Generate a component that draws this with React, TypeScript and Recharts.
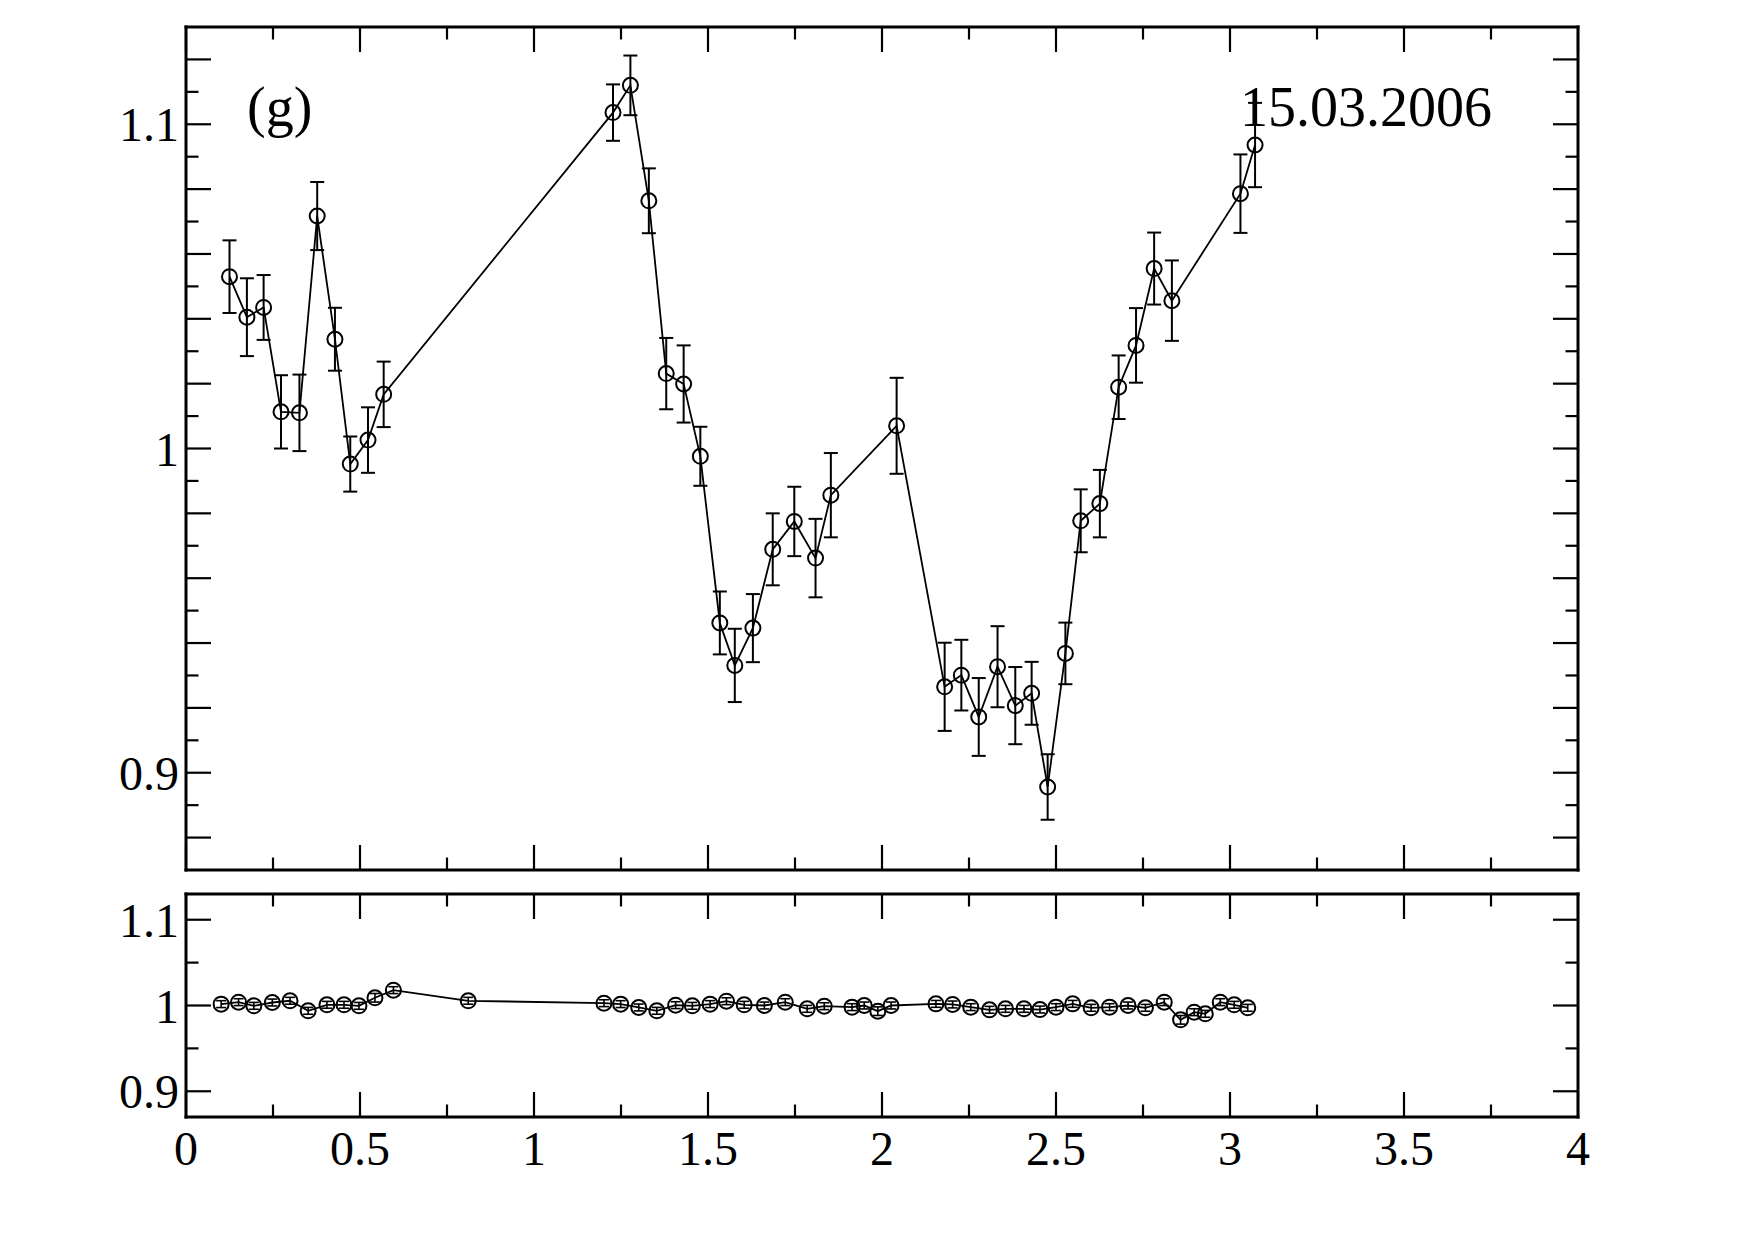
import React from 'react';
import { ComposedChart, Line, XAxis, YAxis, ErrorBar } from 'recharts';

// ---------- data: upper panel (g) ----------
const topX = [
  0.125, 0.175, 0.223, 0.273, 0.326, 0.377, 0.428, 0.472, 0.523, 0.568,
  1.227, 1.277, 1.33, 1.38, 1.43, 1.478, 1.534, 1.577, 1.629, 1.686,
  1.748, 1.809, 1.853, 2.042, 2.18, 2.228, 2.278, 2.332, 2.383, 2.43,
  2.476, 2.527, 2.571, 2.626, 2.68, 2.73, 2.782, 2.833, 3.03, 3.072,
];
const topY = [
  1.053, 1.0405, 1.0435, 1.0113, 1.011, 1.0717, 1.0337, 0.9952, 1.0026, 1.0167,
  1.1036, 1.112, 1.0764, 1.0231, 1.0199, 0.9976, 0.9462, 0.9331, 0.9446, 0.9689,
  0.9775, 0.9662, 0.9856, 1.007, 0.9265, 0.9301, 0.9172, 0.9327, 0.9207, 0.9245,
  0.8956, 0.9368, 0.9777, 0.983, 1.0189, 1.0318, 1.0555, 1.0456, 1.0786, 1.0936,
];
const topErr = [
  0.0112, 0.012, 0.01, 0.0113, 0.0118, 0.0105, 0.0097, 0.0085, 0.0101, 0.0101,
  0.0087, 0.0092, 0.01, 0.011, 0.0119, 0.0091, 0.0097, 0.0113, 0.0105, 0.0111,
  0.0107, 0.0121, 0.013, 0.0148, 0.0136, 0.0109, 0.012, 0.0125, 0.0119, 0.0097,
  0.0101, 0.0095, 0.0097, 0.0104, 0.0098, 0.0115, 0.0111, 0.0124, 0.0121, 0.013,
];

// ---------- data: lower panel ----------
const botX = [
  0.101, 0.151, 0.195, 0.248, 0.299, 0.351, 0.405, 0.454, 0.497, 0.543,
  0.596, 0.811, 1.201, 1.249, 1.301, 1.353, 1.407, 1.455, 1.506, 1.553,
  1.604, 1.662, 1.722, 1.785, 1.834, 1.914, 1.949, 1.988, 2.026, 2.155,
  2.203, 2.255, 2.309, 2.355, 2.408, 2.454, 2.5, 2.548, 2.601, 2.654,
  2.707, 2.757, 2.811, 2.858, 2.897, 2.929, 2.972, 3.012, 3.051,
];
const botY = [
  1.0016, 1.0039, 0.9996, 1.0035, 1.0055, 0.9938, 1.0008, 1.0008, 0.9996, 1.009,
  1.0179, 1.0055, 1.0027, 1.0016, 0.9977, 0.9938, 1.0004, 0.9996, 1.0016, 1.005,
  1.0008, 1.0, 1.0039, 0.9961, 0.9992, 0.9981, 1.0, 0.9934, 1.0, 1.0019,
  1.0012, 0.9981, 0.995, 0.9961, 0.9961, 0.9953, 0.9981, 1.0019, 0.9973, 0.9981,
  1.0, 0.9973, 1.0039, 0.9833, 0.9922, 0.9903, 1.0039, 1.0008, 0.9973,
];
const botErr = [
  0.004, 0.004, 0.004, 0.004, 0.004, 0.004, 0.004, 0.004, 0.004, 0.005,
  0.004, 0.004, 0.004, 0.004, 0.004, 0.004, 0.004, 0.004, 0.004, 0.004,
  0.004, 0.004, 0.004, 0.004, 0.004, 0.004, 0.004, 0.005, 0.004, 0.004,
  0.004, 0.004, 0.004, 0.004, 0.004, 0.004, 0.004, 0.004, 0.004, 0.004,
  0.004, 0.004, 0.004, 0.005, 0.004, 0.004, 0.004, 0.004, 0.004,
];

// ---------- axes / ticks ----------
const X_DOMAIN = [0, 4];
const Y_DOMAIN = [0.87, 1.13];
const X_LABELS = [0, 0.5, 1, 1.5, 2, 2.5, 3, 3.5, 4];
const X_MAJOR = [0, 0.5, 1, 1.5, 2, 2.5, 3, 3.5, 4];
const X_MINOR = [0.25, 0.75, 1.25, 1.75, 2.25, 2.75, 3.25, 3.75];
const Y_LABELS = [0.9, 1, 1.1];
const TOP_Y_MAJOR = [0.88, 0.9, 0.92, 0.94, 0.96, 0.98, 1.0, 1.02, 1.04, 1.06, 1.08, 1.1, 1.12];
const TOP_Y_MINOR = [0.89, 0.91, 0.93, 0.95, 0.97, 0.99, 1.01, 1.03, 1.05, 1.07, 1.09, 1.11];
const BOT_Y_MAJOR = [0.9, 1, 1.1];
const BOT_Y_MINOR = [0.95, 1.05];

const PANEL_LABEL = '(g)';
const DATE_LABEL = '15.03.2006';

const topData = topX.map((x, i) => ({ x, y: topY[i], e: topErr[i] }));
const botData = botX.map((x, i) => ({ x, y: botY[i], e: botErr[i] }));

const W = 1756;
const H = 1242;
const FONT = 'Liberation Serif, Times New Roman, serif';

// plot frames (pixel edges of each panel)
const TOP_MARGIN = { top: 27, right: 178, bottom: 372, left: 186 };
const BOT_MARGIN = { top: 894, right: 178, bottom: 125, left: 186 };

const tickLineStyle = { stroke: '#000', strokeWidth: 2.2 };
const frameStyle = { stroke: '#000', strokeWidth: 3, strokeLinecap: 'square' as const };
const MAJOR_LEN = 25;
const MINOR_LEN = 12.5;

const labelTick = { fill: '#000', fontSize: 48, fontFamily: FONT };
const dotStyle = { r: 7.5, fill: 'none', stroke: '#000', strokeWidth: 2 };

const layerStyle: React.CSSProperties = { position: 'absolute', left: 0, top: 0 };

type Margin = { top: number; right: number; bottom: number; left: number };

// tick mark only: no label text
const EmptyTick = () => <g />;

function TickLayer({ margin, xTicks, yTicks, len, frame }: {
  margin: Margin; xTicks: number[]; yTicks: number[]; len: number; frame: boolean;
}) {
  const axisLine = frame ? frameStyle : false;
  const xc = {
    dataKey: 'x',
    type: 'number' as const,
    domain: X_DOMAIN,
    allowDataOverflow: true,
    mirror: true,
    tick: EmptyTick,
    interval: 0 as const,
    stroke: '#000',
    height: 1,
    ticks: xTicks,
    tickSize: len,
    tickLine: tickLineStyle,
    axisLine,
  };
  const yc = {
    dataKey: 'y',
    type: 'number' as const,
    domain: Y_DOMAIN,
    allowDataOverflow: true,
    mirror: true,
    tick: EmptyTick,
    interval: 0 as const,
    stroke: '#000',
    width: 1,
    ticks: yTicks,
    tickSize: len,
    tickLine: tickLineStyle,
    axisLine,
  };
  return (
    <div style={layerStyle}>
      <ComposedChart width={W} height={H} margin={margin}>
        <XAxis xAxisId="t" orientation="top" {...xc} />
        <XAxis xAxisId="b" orientation="bottom" {...xc} />
        <YAxis yAxisId="l" orientation="left" {...yc} />
        <YAxis yAxisId="r" orientation="right" {...yc} />
      </ComposedChart>
    </div>
  );
}

export default function App() {
  return (
    <div style={{ position: 'absolute', left: 0, top: 0, width: W, height: H, background: '#fff', overflow: 'hidden' }}>
      {/* upper panel: frame and ticks */}
      <TickLayer margin={TOP_MARGIN} xTicks={X_MAJOR} yTicks={TOP_Y_MAJOR} len={MAJOR_LEN} frame />
      <TickLayer margin={TOP_MARGIN} xTicks={X_MINOR} yTicks={TOP_Y_MINOR} len={MINOR_LEN} frame={false} />
      {/* upper panel: data */}
      <div style={layerStyle}>
        <ComposedChart width={W} height={H} margin={{ ...TOP_MARGIN, left: TOP_MARGIN.left - 60 }}>
          <XAxis xAxisId="xd" dataKey="x" type="number" domain={X_DOMAIN} allowDataOverflow hide />
          <YAxis
            yAxisId="yl"
            type="number"
            domain={Y_DOMAIN}
            allowDataOverflow
            width={60}
            ticks={Y_LABELS}
            interval={0}
            tickLine={false}
            axisLine={false}
            tickSize={0}
            tickMargin={7}
            tick={labelTick}
          />
          <Line
            xAxisId="xd"
            yAxisId="yl"
            data={topData}
            dataKey="y"
            type="linear"
            stroke="#000"
            strokeWidth={1.8}
            dot={dotStyle}
            activeDot={false}
            isAnimationActive={false}
          >
            <ErrorBar dataKey="e" direction="y" width={7} stroke="#000" strokeWidth={2} />
          </Line>
        </ComposedChart>
      </div>

      {/* lower panel: frame and ticks */}
      <TickLayer margin={BOT_MARGIN} xTicks={X_MAJOR} yTicks={BOT_Y_MAJOR} len={MAJOR_LEN} frame />
      <TickLayer margin={BOT_MARGIN} xTicks={X_MINOR} yTicks={BOT_Y_MINOR} len={MINOR_LEN} frame={false} />
      {/* lower panel: data */}
      <div style={layerStyle}>
        <ComposedChart
          width={W}
          height={H}
          margin={{ ...BOT_MARGIN, left: BOT_MARGIN.left - 60, bottom: BOT_MARGIN.bottom - 60 }}
        >
          <XAxis
            xAxisId="xd"
            dataKey="x"
            type="number"
            domain={X_DOMAIN}
            allowDataOverflow
            height={60}
            ticks={X_LABELS}
            interval={0}
            tickLine={false}
            axisLine={false}
            tickSize={0}
            tickMargin={14}
            tick={labelTick}
          />
          <YAxis
            yAxisId="yl"
            type="number"
            domain={Y_DOMAIN}
            allowDataOverflow
            width={60}
            ticks={Y_LABELS}
            interval={0}
            tickLine={false}
            axisLine={false}
            tickSize={0}
            tickMargin={7}
            tick={labelTick}
          />
          <Line
            xAxisId="xd"
            yAxisId="yl"
            data={botData}
            dataKey="y"
            type="linear"
            stroke="#000"
            strokeWidth={1.8}
            dot={dotStyle}
            activeDot={false}
            isAnimationActive={false}
          >
            <ErrorBar dataKey="e" direction="y" width={5} stroke="#000" strokeWidth={1.6} />
          </Line>
        </ComposedChart>
      </div>

      {/* panel annotations */}
      <svg width={W} height={H} style={{ position: 'absolute', left: 0, top: 0, pointerEvents: 'none' }}>
        <text x={247} y={126} fontFamily={FONT} fontSize={56} fill="#000">{PANEL_LABEL}</text>
        <text x={1240} y={126} fontFamily={FONT} fontSize={56} fill="#000">{DATE_LABEL}</text>
      </svg>
    </div>
  );
}
